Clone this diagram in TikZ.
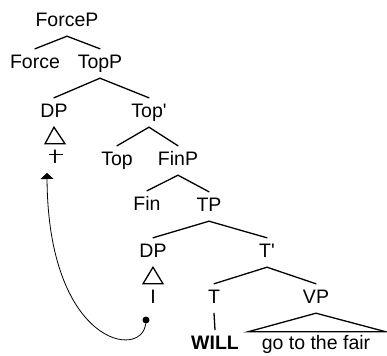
\documentclass[tikz,border=0pt]{standalone}
\usepackage{fontspec}
\setmainfont{Liberation Sans}
\usetikzlibrary{arrows.meta}
\begin{document}
\begin{tikzpicture}[x=1bp,y=-1bp,
        cat/.style={anchor=base,inner xsep=1bp,inner ysep=5bp,text height=14bp,text depth=5bp,font=\fontsize{19.5bp}{22bp}\selectfont},
        branch/.style={line width=1.3bp,line cap=round},
        roof/.style={line width=1.3bp,line join=miter}]
        \useasboundingbox (0,0) rectangle (387,356);

        \node[cat] (forcep) at (67,26) {ForceP};
        \node[cat] (force) at (35,68) {Force};
        \node[cat] (topp) at (100,68) {TopP};
        \node[cat] (dpa) at (54,117) {DP};
        \node[cat] (topbar) at (149,117) {Top\textquotesingle};
        \node[cat] (ia) at (55,163) {I};
        \node[cat] (top) at (117,165) {Top};
        \node[cat] (finp) at (178,165) {FinP};
        \node[cat] (fin) at (147,210) {Fin};
        \node[cat] (tp) at (209,211) {TP};
        \node[cat] (dpb) at (153,257) {DP};
        \node[cat] (tbar) at (267,257) {T\textquotesingle};
        \node[cat] (ib) at (153,303) {I};
        \node[cat] (t) at (214,303) {T};
        \node[cat] (vp) at (316,303) {VP};
        \node[cat] (will) at (215,349) {\bfseries WILL};
        \node[cat] (fair) at (316,349) {go to the fair};

        \foreach \p/\c in {forcep/force,forcep/topp,topp/dpa,topp/topbar,topbar/top,topbar/finp,
                finp/fin,finp/tp,tp/dpb,tp/tbar,tbar/t,tbar/vp,t/will}
            \draw[branch] (\p.south) -- (\c.north);

        \draw[roof] (dpa.south) -- ([xshift=-10bp]ia.north) -- ([xshift=10bp]ia.north) -- cycle;
        \draw[roof] (dpb.south) -- ([xshift=-10bp]ib.north) -- ([xshift=10bp]ib.north) -- cycle;
        \draw[roof] (vp.south) -- ([xshift=-68bp,yshift=-2bp]fair.north) -- ([xshift=70bp,yshift=-2bp]fair.north) -- cycle;

        % the struck-out copy
        \draw[line width=1bp] ([xshift=-6bp,yshift=9bp]ia.base) -- ([xshift=8bp,yshift=9bp]ia.base);

        \node[circle,fill,inner sep=0pt,minimum size=7bp] (trace) at (146,320) {};
        \coordinate (landing) at (47,173);
        \draw[line width=0.8bp,-{Triangle[width=13bp,length=6bp]}] (trace) .. controls (142,360) and (48,345) .. (landing);
\end{tikzpicture}
\end{document}
